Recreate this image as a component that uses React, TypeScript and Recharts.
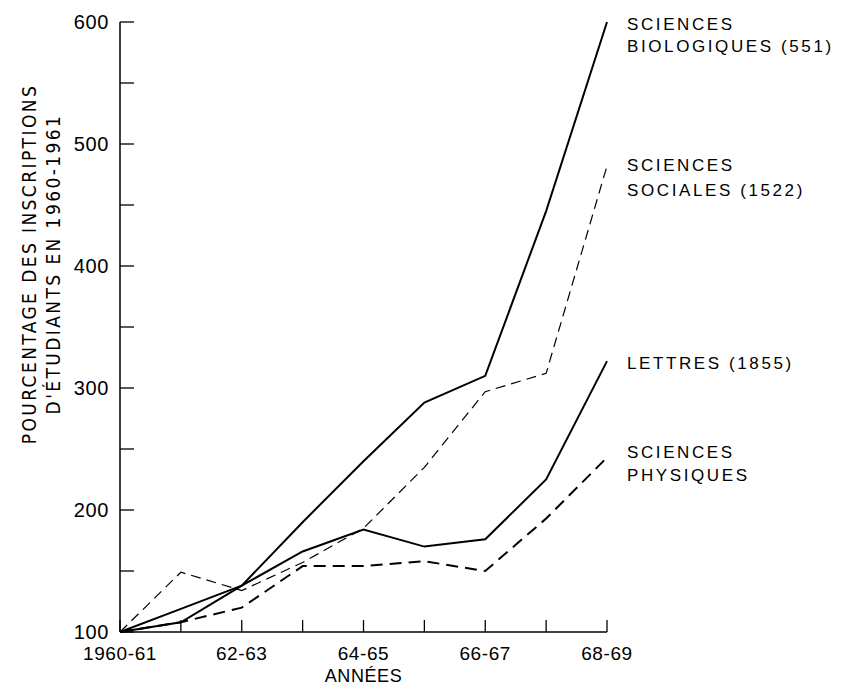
import { LineChart, Line, XAxis, YAxis } from "recharts";

// Croissance des inscriptions, base 100 en 1960-61
const annees = ["1960-61", "61-62", "62-63", "63-64", "64-65", "65-66", "66-67", "67-68", "68-69"];
const biologiques = [100, 108, 138, 190, 240, 288, 310, 445, 600];
const sociales = [100, 149, 134, 157, 185, 235, 297, 312, 482];
const lettres = [100, 119, 138, 166, 184, 170, 176, 225, 322];
const physiques = [100, 108, 120, 154, 154, 158, 150, 193, 243];
const yTicks = [100, 150, 200, 250, 300, 350, 400, 450, 500, 550, 600];
const xLabels = ["1960-61", "62-63", "64-65", "66-67", "68-69"];

const data = annees.map((a, i) => ({
  annee: a,
  bio: biologiques[i],
  soc: sociales[i],
  let: lettres[i],
  phy: physiques[i],
}));

const FONT = "'Liberation Sans', Arial, sans-serif";
const COND = "'DejaVu Sans Condensed', 'Liberation Sans Narrow', 'Liberation Sans', sans-serif";

const XTick = ({ x, y, payload }: any) => (
  <g>
    <line x1={x} y1={y} x2={x} y2={y - 12} stroke="#000" strokeWidth={1.3} />
    {xLabels.includes(payload.value) && (
      <text x={x} y={y + 28} textAnchor="middle" fontFamily={FONT} fontSize={19} letterSpacing={0.6} fill="#000">
        {payload.value}
      </text>
    )}
  </g>
);

const YTick = ({ x, y, payload }: any) => (
  <g>
    <line x1={x} y1={y} x2={x + 14} y2={y} stroke="#000" strokeWidth={1.3} />
    {payload.value % 100 === 0 && (
      <text x={x - 11} y={y + 7} textAnchor="end" fontFamily={FONT} fontSize={20} letterSpacing={0.6} fill="#000">
        {payload.value}
      </text>
    )}
  </g>
);

// étiquette à droite du dernier point de chaque série
const endLabel = (lines: string[], dy: number, gap: number) => (props: any) => {
  const { x, y, index } = props;
  if (index !== annees.length - 1) return null;
  return (
    <text x={x + 20} y={y + dy} fontFamily={FONT} fontSize={17} letterSpacing={2.6} fill="#000">
      {lines.map((l, i) => (
        <tspan key={i} x={x + 20} dy={i === 0 ? 0 : gap}>
          {l}
        </tspan>
      ))}
    </text>
  );
};

export default function App() {
  return (
    <div style={{ position: "absolute", left: 0, top: 0, background: "#fff" }}>
      <LineChart width={842} height={689} data={data} margin={{ top: 22, right: 235, left: 0, bottom: 0 }}>
        <XAxis
          dataKey="annee"
          height={57}
          tickSize={0}
          tickMargin={0}
          tickLine={false}
          interval={0}
          tick={<XTick />}
          stroke="#000"
          strokeWidth={1.5}
          label={({ viewBox }: any) => (
            <text
              x={viewBox.x + viewBox.width / 2}
              y={viewBox.y + 50}
              textAnchor="middle"
              fontFamily={FONT}
              fontSize={18}
              letterSpacing={0.6}
              fill="#000"
            >
              ANNÉES
            </text>
          )}
        />
        <YAxis
          width={120}
          domain={[100, 600]}
          ticks={yTicks}
          tickSize={0}
          tickMargin={0}
          tickLine={false}
          interval={0}
          tick={<YTick />}
          stroke="#000"
          strokeWidth={1.5}
          label={() => (
            <g transform="translate(36, 264) rotate(-90)">
              <text x={0} y={0} textAnchor="middle" fontFamily={COND} fontSize={19} letterSpacing={2.4} fill="#000">
                POURCENTAGE DES INSCRIPTIONS
              </text>
              <text x={0} y={24} textAnchor="middle" fontFamily={COND} fontSize={19} letterSpacing={2.4} fill="#000">
                D'ÉTUDIANTS EN 1960-1961
              </text>
            </g>
          )}
        />
        <Line
          dataKey="bio"
          stroke="#000"
          strokeWidth={2}
          dot={false}
          isAnimationActive={false}
          label={endLabel(["SCIENCES", "BIOLOGIQUES (551)"], 8, 22)}
        />
        <Line
          dataKey="soc"
          stroke="#000"
          strokeWidth={1.2}
          strokeDasharray="10 6"
          dot={false}
          isAnimationActive={false}
          label={endLabel(["SCIENCES", "SOCIALES (1522)"], 5, 25)}
        />
        <Line
          dataKey="let"
          stroke="#000"
          strokeWidth={2}
          dot={false}
          isAnimationActive={false}
          label={endLabel(["LETTRES (1855)"], 8, 0)}
        />
        <Line
          dataKey="phy"
          stroke="#000"
          strokeWidth={2}
          strokeDasharray="12 7"
          dot={false}
          isAnimationActive={false}
          label={endLabel(["SCIENCES", "PHYSIQUES"], 0, 23)}
        />
      </LineChart>
    </div>
  );
}
